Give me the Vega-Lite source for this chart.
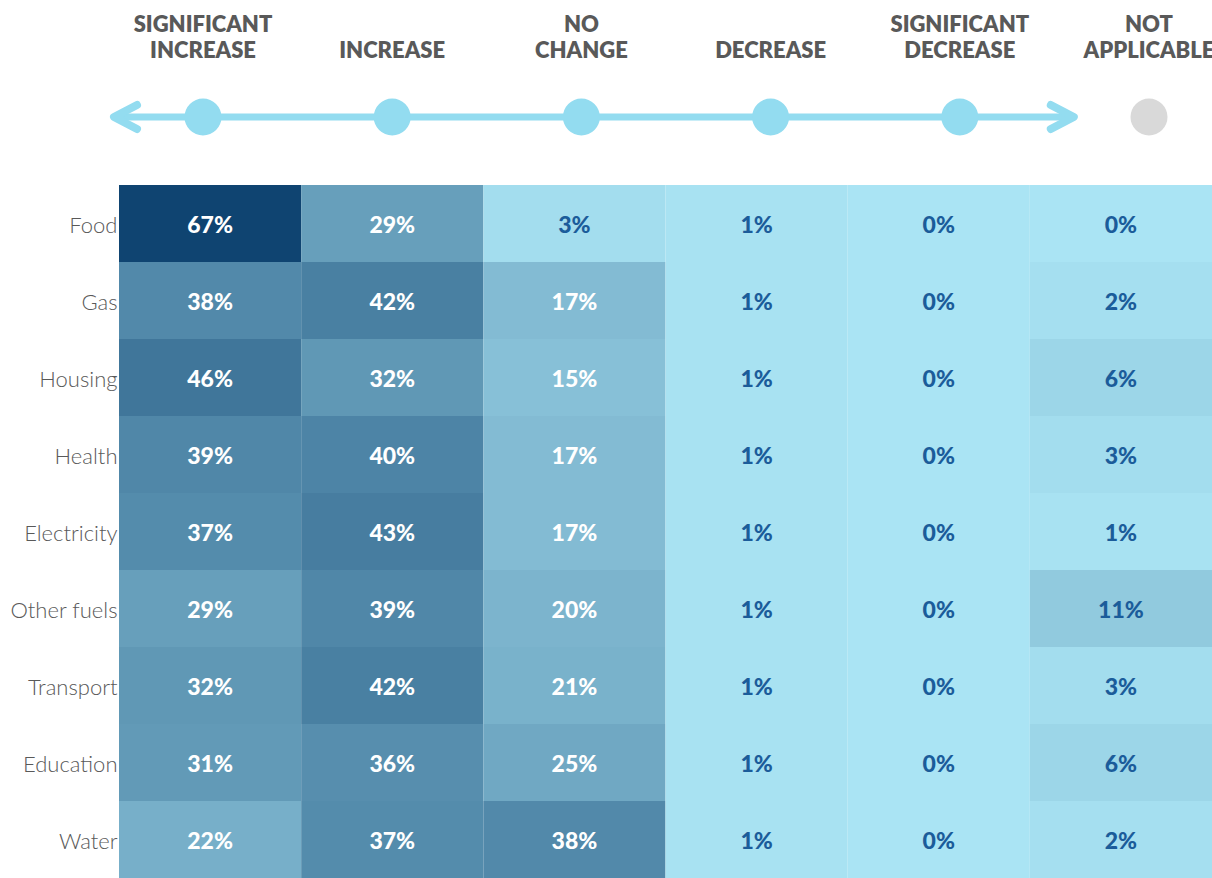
{
  "$schema": "https://vega.github.io/schema/vega-lite/v6.json",
  "width": 1093,
  "height": 878,
  "autosize": {"type": "none"},
  "padding": {"left": 119, "top": 0, "right": 0, "bottom": 0},
  "background": "white",
  "config": {"view": {"stroke": null}, "font": "Lato"},
  "datasets": {
    "cells": [
      {"item": "Food", "SIGNIFICANT INCREASE": 0.67, "INCREASE": 0.29, "NO CHANGE": 0.03, "DECREASE": 0.01, "SIGNIFICANT DECREASE": 0, "NOT APPLICABLE": 0},
      {"item": "Gas", "SIGNIFICANT INCREASE": 0.38, "INCREASE": 0.42, "NO CHANGE": 0.17, "DECREASE": 0.01, "SIGNIFICANT DECREASE": 0, "NOT APPLICABLE": 0.02},
      {"item": "Housing", "SIGNIFICANT INCREASE": 0.46, "INCREASE": 0.32, "NO CHANGE": 0.15, "DECREASE": 0.01, "SIGNIFICANT DECREASE": 0, "NOT APPLICABLE": 0.06},
      {"item": "Health", "SIGNIFICANT INCREASE": 0.39, "INCREASE": 0.40, "NO CHANGE": 0.17, "DECREASE": 0.01, "SIGNIFICANT DECREASE": 0, "NOT APPLICABLE": 0.03},
      {"item": "Electricity", "SIGNIFICANT INCREASE": 0.37, "INCREASE": 0.43, "NO CHANGE": 0.17, "DECREASE": 0.01, "SIGNIFICANT DECREASE": 0, "NOT APPLICABLE": 0.01},
      {"item": "Other fuels", "SIGNIFICANT INCREASE": 0.29, "INCREASE": 0.39, "NO CHANGE": 0.20, "DECREASE": 0.01, "SIGNIFICANT DECREASE": 0, "NOT APPLICABLE": 0.11},
      {"item": "Transport", "SIGNIFICANT INCREASE": 0.32, "INCREASE": 0.42, "NO CHANGE": 0.21, "DECREASE": 0.01, "SIGNIFICANT DECREASE": 0, "NOT APPLICABLE": 0.03},
      {"item": "Education", "SIGNIFICANT INCREASE": 0.31, "INCREASE": 0.36, "NO CHANGE": 0.25, "DECREASE": 0.01, "SIGNIFICANT DECREASE": 0, "NOT APPLICABLE": 0.06},
      {"item": "Water", "SIGNIFICANT INCREASE": 0.22, "INCREASE": 0.37, "NO CHANGE": 0.38, "DECREASE": 0.01, "SIGNIFICANT DECREASE": 0, "NOT APPLICABLE": 0.02}
    ],
    "header": [
      {"col": "SIGNIFICANT INCREASE", "line1": "SIGNIFICANT", "line2": "INCREASE"},
      {"col": "INCREASE", "line1": "", "line2": "INCREASE"},
      {"col": "NO CHANGE", "line1": "NO", "line2": "CHANGE"},
      {"col": "DECREASE", "line1": "", "line2": "DECREASE"},
      {"col": "SIGNIFICANT DECREASE", "line1": "SIGNIFICANT", "line2": "DECREASE"},
      {"col": "NOT APPLICABLE", "line1": "NOT", "line2": "APPLICABLE"}
    ],
    "arrow": [
      {"from": "SIGNIFICANT INCREASE", "to": "SIGNIFICANT DECREASE"}
    ]
  },
  "layer": [
    {
      "data": {"name": "cells"},
      "transform": [
        {"fold": ["SIGNIFICANT INCREASE", "INCREASE", "NO CHANGE", "DECREASE", "SIGNIFICANT DECREASE", "NOT APPLICABLE"], "as": ["col", "value"]}
      ],
      "encoding": {
        "x": {
          "field": "col", "type": "nominal",
          "scale": {"type": "band", "domain": ["SIGNIFICANT INCREASE", "INCREASE", "NO CHANGE", "DECREASE", "SIGNIFICANT DECREASE", "NOT APPLICABLE"], "paddingInner": 0, "paddingOuter": 0},
          "axis": null
        },
        "y": {
          "field": "item", "type": "nominal",
          "scale": {"type": "band", "domain": ["Food", "Gas", "Housing", "Health", "Electricity", "Other fuels", "Transport", "Education", "Water"], "range": [185, 878], "paddingInner": 0, "paddingOuter": 0},
          "axis": {"title": null, "domain": false, "ticks": false, "labelPadding": 2, "labelOffset": 2, "labelFont": "Lato", "labelFontSize": 22, "labelFontWeight": 300, "labelColor": "#595959"}
        }
      },
      "layer": [
        {
          "mark": {"type": "rect"},
          "encoding": {
            "color": {"field": "value", "type": "quantitative", "scale": {"type": "linear", "domain": [0, 0.67], "range": ["#aae4f4", "#0f4471"], "interpolate": "rgb"}, "legend": null}
          }
        },
        {
          "mark": {"type": "text", "fontSize": 23, "fontWeight": 900, "font": "Lato", "dy": 2},
          "encoding": {
            "text": {"field": "value", "type": "quantitative", "format": ".0%"},
            "color": {"condition": {"test": "datum.value >= 0.13", "value": "#ffffff"}, "value": "#1b5c9a"}
          }
        }
      ]
    },
    {
      "layer": [
        {
          "data": {"name": "arrow"},
          "mark": {"type": "rule", "strokeWidth": 7, "color": "#93dcf0", "xOffset": -89, "x2Offset": 114},
          "encoding": {
            "x": {"field": "from", "type": "nominal", "scale": {"type": "point", "domain": ["SIGNIFICANT INCREASE", "INCREASE", "NO CHANGE", "DECREASE", "SIGNIFICANT DECREASE", "NOT APPLICABLE"], "range": [84, 1030], "padding": 0}, "axis": null},
            "x2": {"field": "to"},
            "y": {"datum": "axis", "type": "nominal", "scale": {"type": "point", "domain": ["label", "axis"], "range": [58, 117], "padding": 0}, "axis": null}
          }
        },
        {
          "data": {"name": "arrow"},
          "mark": {"type": "point", "shape": "M1,-0.52L0,0L1,0.52", "filled": false, "stroke": "#93dcf0", "strokeWidth": 8, "strokeCap": "round", "strokeJoin": "round", "size": 2116, "xOffset": -89, "opacity": 1},
          "encoding": {
            "x": {"field": "from", "type": "nominal"},
            "y": {"datum": "axis", "type": "nominal"}
          }
        },
        {
          "data": {"name": "arrow"},
          "mark": {"type": "point", "shape": "M-1,-0.52L0,0L-1,0.52", "filled": false, "stroke": "#93dcf0", "strokeWidth": 8, "strokeCap": "round", "strokeJoin": "round", "size": 2116, "xOffset": 114, "opacity": 1},
          "encoding": {
            "x": {"field": "to", "type": "nominal"},
            "y": {"datum": "axis", "type": "nominal"}
          }
        },
        {
          "data": {"name": "header"},
          "mark": {"type": "point", "shape": "circle", "filled": true, "size": 1370, "opacity": 1},
          "encoding": {
            "x": {"field": "col", "type": "nominal"},
            "y": {"datum": "axis", "type": "nominal"},
            "color": {"condition": {"test": "datum.col === 'NOT APPLICABLE'", "value": "#d9d9d9"}, "value": "#93dcf0"}
          }
        },
        {
          "data": {"name": "header"},
          "mark": {"type": "text", "font": "Lato", "fontSize": 22, "fontWeight": 800, "color": "#595959", "baseline": "alphabetic", "align": "center", "dy": -26},
          "encoding": {
            "x": {"field": "col", "type": "nominal"},
            "y": {"datum": "label", "type": "nominal"},
            "text": {"field": "line1", "type": "nominal"}
          }
        },
        {
          "data": {"name": "header"},
          "mark": {"type": "text", "font": "Lato", "fontSize": 22, "fontWeight": 800, "color": "#595959", "baseline": "alphabetic", "align": "center"},
          "encoding": {
            "x": {"field": "col", "type": "nominal"},
            "y": {"datum": "label", "type": "nominal"},
            "text": {"field": "line2", "type": "nominal"}
          }
        }
      ]
    }
  ],
  "resolve": {"scale": {"x": "independent", "y": "independent", "color": "independent"}}
}
